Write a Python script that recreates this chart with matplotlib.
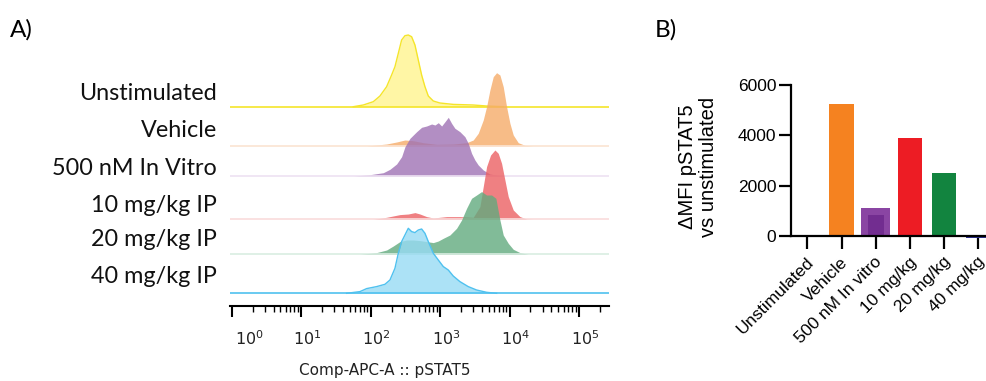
import numpy as np
import matplotlib
matplotlib.use("Agg")
import matplotlib.pyplot as plt
import matplotlib.transforms as mtransforms
from matplotlib.ticker import FixedLocator, LogLocator, NullFormatter

# ---- panel A: pSTAT5 histograms (log10 intensity, height normalised to mode) ----
rows = ["Unstimulated", "Vehicle", "500 nM In Vitro", "10 mg/kg IP", "20 mg/kg IP", "40 mg/kg IP"]

unstim_log = [1.75, 1.894, 2.038, 2.134, 2.23, 2.302, 2.35, 2.398, 2.446, 2.494, 2.542, 2.59,
              2.638, 2.686, 2.734, 2.782, 2.83, 2.902, 2.998, 3.19, 3.477, 3.669, 3.909]
unstim_h = [0, 1.7, 5, 10.7, 20, 31.7, 40, 53.3, 66.7, 71, 71.7, 70,
            61.7, 46.7, 31.7, 20, 10.7, 5.7, 3.7, 2.3, 1.7, 0.7, 0]

vehicle_log = [1.942, 2.23, 2.374, 2.494, 2.614, 2.758, 2.95, 3.19, 3.381, 3.477, 3.549, 3.621,
               3.669, 3.717, 3.765, 3.813, 3.861, 3.909, 3.957, 4.005, 4.053, 4.125, 4.221, 4.341]
vehicle_h = [0, 2, 4, 6, 5.3, 3.3, 1.7, 2, 3.3, 6, 12.7, 26,
             39.3, 56, 69.3, 73.3, 71, 59.3, 39.3, 22.7, 11, 3.3, 0.7, 0]

invitro_log = [1.751, 1.99, 2.182, 2.278, 2.374, 2.446, 2.494, 2.566, 2.662, 2.734, 2.806, 2.878,
               2.926, 2.974, 3.022, 3.07, 3.118, 3.165, 3.213, 3.285, 3.357, 3.405, 3.453, 3.501,
               3.549, 3.621, 3.717, 3.861, 4.005]
invitro_h = [0, 1.3, 3.3, 6.7, 12, 19.3, 29.3, 37.7, 44.3, 48.7, 50, 52,
             51, 53.3, 50, 54.3, 58.7, 52.7, 47.7, 44.3, 39.3, 32.7, 22.7, 16,
             11, 6, 2, 0.3, 0]

ip10_log = [2.038, 2.23, 2.422, 2.542, 2.638, 2.71, 2.806, 2.902, 3.094, 3.285, 3.477, 3.573,
            3.621, 3.669, 3.727, 3.789, 3.837, 3.885, 3.933, 3.981, 4.053, 4.149, 4.245, 4.341]
ip10_h = [0, 2, 4.7, 5.3, 6.7, 5.3, 2.7, 1.3, 2.7, 2.7, 2, 12.7,
          32.7, 52.7, 64.3, 69.3, 66, 56, 39.3, 22.7, 9.3, 2.7, 0.3, 0]

ip20_log = [1.847, 2.086, 2.23, 2.326, 2.422, 2.518, 2.614, 2.71, 2.806, 2.902, 2.974, 3.046,
            3.141, 3.237, 3.309, 3.381, 3.453, 3.525, 3.597, 3.669, 3.741, 3.803, 3.861, 3.909,
            3.981, 4.053, 4.149, 4.269]
ip20_h = [0, 1.7, 4.3, 8.3, 12.7, 14.3, 14.3, 13.7, 12.7, 11.7, 13.3, 16,
          19.3, 26, 34.3, 46, 56, 59.3, 62.7, 59.3, 59.3, 56, 34.3, 19.3,
          11, 5, 1.7, 0]

ip40_log = [1.655, 1.847, 1.942, 2.086, 2.206, 2.278, 2.35, 2.398, 2.446, 2.494, 2.542, 2.59,
            2.638, 2.686, 2.734, 2.782, 2.83, 2.902, 2.974, 3.046, 3.118, 3.189, 3.285, 3.405,
            3.525, 3.669, 3.813]
ip40_h = [0, 1.7, 4.7, 6.7, 9, 13.3, 25, 40, 51.7, 58.3, 65, 61.7,
          60.7, 63.3, 64.3, 60, 51.7, 40, 33.3, 26.7, 23.3, 17.3, 11.7, 6.7,
          3.3, 1, 0]

hist_logs = [unstim_log, vehicle_log, invitro_log, ip10_log, ip20_log, ip40_log]
hist_heights = [unstim_h, vehicle_h, invitro_h, ip10_h, ip20_h, ip40_h]

decades = [0, 1, 2, 3, 4, 5]

# ---- panel B: delta MFI ----
groups = ["Unstimulated", "Vehicle", "500 nM In vitro", "10 mg/kg", "20 mg/kg", "40 mg/kg"]
delta_mfi = [0, 5233, 1100, 3906, 2491, -60]
invitro_inner = 834

# styles
fill_cols = ["#fff48f", "#f5ab69", "#9f72b4", "#ec6063", "#62aa7e", "#97dbf4"]
base_cols = ["#f5e52a", "#fbe4d2", "#eee2f2", "#f9dcdc", "#d9ede2", "#4fc1ef"]
edge_cols = ["#f5e52a", None, None, None, None, "#4fc1ef"]
offsets = [199.3, 160, 130, 86.7, 51.7, 12.7]
label_y = [93.3, 130.7, 168.3, 205, 240, 276.7]
tick_shift = [18, 6, 6, 6, 6, 6]
bar_cols = ["#2e3192", "#f58220", "#8a45a3", "#ed1c24", "#12843f", "#2e3192"]

W, H = 986, 381
fig = plt.figure(figsize=(W / 100, H / 100), dpi=100)

ax = fig.add_axes([230 / W, 1 - 306 / H, 379 / W, 276 / H])
ax.set_xscale("log")
xmin, xmax = 0.945, 2.7e5
for i in range(len(rows)):
    xs = 10 ** np.array(hist_logs[i])
    ys = offsets[i] + np.array(hist_heights[i])
    z = 2 + i
    ax.fill_between(xs, offsets[i], ys, color=fill_cols[i], alpha=0.8, lw=0, zorder=z)
    ax.plot([xmin, xmax], [offsets[i], offsets[i]], color=base_cols[i], lw=1.2, zorder=z + 0.1)
    if edge_cols[i]:
        ax.plot(xs, ys, color=edge_cols[i], lw=1.0, zorder=z + 0.2)
ax.set_xlim(xmin, xmax)
ax.set_ylim(0, 276)
for s in ["left", "top", "right"]:
    ax.spines[s].set_visible(False)
ax.spines["bottom"].set_linewidth(1.5)
ax.set_yticks([])
ax.xaxis.set_major_locator(FixedLocator([10.0 ** d for d in decades]))
ax.set_xticklabels([r"$10^{%d}$" % d for d in decades], fontsize=11.5, color="#222222")
ax.xaxis.set_minor_locator(LogLocator(base=10, subs=np.arange(2, 10), numticks=20))
ax.xaxis.set_minor_formatter(NullFormatter())
ax.tick_params(axis="x", which="major", length=8, width=1.5, pad=9, direction="out")
ax.tick_params(axis="x", which="minor", length=4, width=1.0)
for lbl, dx in zip(ax.get_xticklabels(), tick_shift):
    lbl.set_transform(lbl.get_transform() +
                      mtransforms.ScaledTranslation(dx / 100, 0, fig.dpi_scale_trans))

fig.text(385 / W, 1 - 370 / H, "Comp-APC-A :: pSTAT5", ha="center", va="center",
         fontsize=11, color="#222222")
for name, yc in zip(rows, label_y):
    fig.text(217 / W, 1 - yc / H, name, ha="right", va="center", fontsize=16.8,
             family="Lato", color="#111111")
fig.text(10 / W, 1 - 30 / H, "A)", ha="left", va="center", fontsize=17.5, family="Lato")
fig.text(655 / W, 1 - 30 / H, "B)", ha="left", va="center", fontsize=17.5, family="Lato")

# ---- panel B ----
ax2 = fig.add_axes([791 / W, 1 - 239.8 / H, 201 / W, (239.8 - 85) / H])
pos = np.arange(len(groups))
ax2.bar(pos, delta_mfi, width=0.71, color=bar_cols, zorder=2)
ax2.bar(pos[2], delta_mfi[2], width=0.85, color=bar_cols[2], zorder=2)
ax2.bar(pos[2], invitro_inner, width=0.46, color="#722d90", zorder=3)
ax2.set_xlim(-0.477, 5.4)
ax2.set_ylim(-150, 6000)
for s in ["top", "right"]:
    ax2.spines[s].set_visible(False)
ax2.spines["bottom"].set_position(("data", 0))
ax2.spines["left"].set_bounds(0, 6000)
for s in ["left", "bottom"]:
    ax2.spines[s].set_linewidth(1.6)
    ax2.spines[s].set_zorder(4)
ax2.set_yticks([0, 2000, 4000, 6000])
ax2.set_yticklabels(["0", "2000", "4000", "6000"], family="Liberation Sans", fontsize=12.5)
ax2.set_xticks(pos)
ax2.set_xticklabels(groups, rotation=45, ha="right", va="center", rotation_mode="anchor",
                    family="Liberation Sans", fontsize=12.5)
ax2.tick_params(axis="both", length=9, width=1.6, pad=1.5)
ax2.tick_params(axis="x", pad=8)
for lbl in ax2.get_xticklabels():
    lbl.set_transform(lbl.get_transform() +
                      mtransforms.ScaledTranslation(4 / 100, 0, fig.dpi_scale_trans))
fig.text(698 / W, 1 - 167 / H, "\u0394MFI pSTAT5\nvs unstimulated", rotation=90,
         ha="center", va="center", multialignment="center", family="Liberation Sans",
         fontsize=14.5, linespacing=1.1)

fig.savefig("out.png", dpi=100)
